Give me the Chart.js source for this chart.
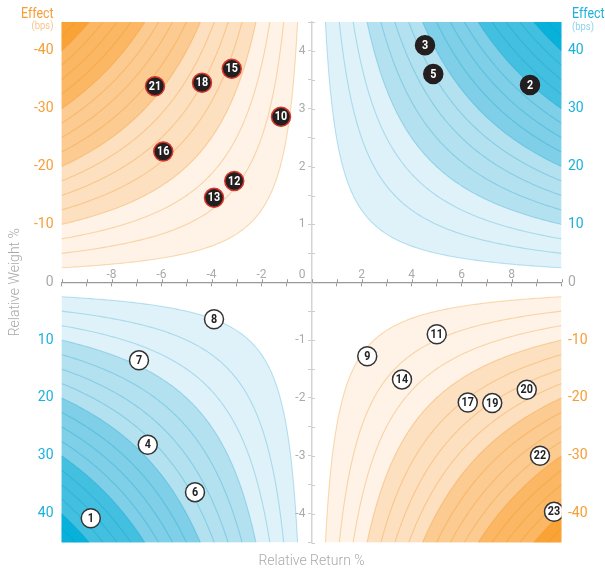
<!DOCTYPE html>
<html>
<head>
<meta charset="utf-8">
<script src="https://cdn.jsdelivr.net/npm/chart.js@4/dist/chart.umd.min.js"></script>
<style>
html,body{margin:0;padding:0;background:#fff;}
#wrap{width:605px;height:570px;position:relative;}
</style>
</head>
<body>
<div id="wrap"><canvas id="c" width="605" height="570"></canvas></div>
<script>
// ---- data ----
const pointIds   = [1, 2, 3, 4, 5, 6, 7, 8, 9, 10, 11, 12, 13, 14, 15, 16, 17, 18, 19, 20, 21, 22, 23];
const relReturn  = [-8.83, 8.74, 4.54, -6.55, 4.87, -4.66, -6.9, -3.9, 2.23, -1.22, 5.01, -3.09, -3.9, 3.62, -3.19, -5.93, 6.25, -4.38, 7.23, 8.61, -6.26, 9.14, 9.7];
const relWeight  = [-4.08, 3.41, 4.10, -2.81, 3.60, -3.63, -1.35, -0.64, -1.28, 2.86, -0.90, 1.75, 1.46, -1.68, 3.69, 2.26, -2.08, 3.45, -2.09, -1.86, 3.39, -3.0, -3.97];

// contour levels (bps) and band levels (bps)
const contourLevels = [2.5, 5, 7.5, 10, 12.5, 15, 17.5, 20, 22.5, 25, 27.5, 30, 32.5, 35, 37.5, 40, 42.5, 45];
const bandLevels    = [2.5, 10, 20, 30, 40];

// tick labels
const weightTicks        = [-4, -3, -2, -1, 0, 1, 2, 3, 4];
const leftEffectLabels   = ['40', '30', '20', '10', '0', '-10', '-20', '-30', '-40'];
const rightEffectLabels  = ['-40', '-30', '-20', '-10', '0', '10', '20', '30', '40'];
const returnTickValues   = [-8, -6, -4, -2, 2, 4, 6, 8];
const returnTickLabels   = ['-8', '-6', '-4', '-2', '2', '4', '6', '8'];
const weightAxisValues   = [-4, -3, -2, -1, 1, 2, 3, 4];
const weightAxisLabels   = ['-4', '-3', '-2', '-1', '1', '2', '3', '4'];

// ---- styles ----
const ORANGE = '#f59e38', ORANGE_LIGHT = '#f8c48c';
const BLUE = '#1cb1dc', BLUE_LIGHT = '#8fd2ea';
const GREY = '#aaaaaa';
const orangeBands = ['#fef3e6', '#fde0c0', '#fccb91', '#fbb763', '#f9a236'];
const blueBands   = ['#e0f2f9', '#b3e1ef', '#7ecfe7', '#43bfe0', '#07b1d9'];
const orangeLine = 'rgba(240,150,40,0.34)';
const blueLine   = 'rgba(0,150,200,0.26)';
const FONT = 'Roboto, "Noto Sans", sans-serif';
const PAD = '\u2002';

const quadrants = [
  {sx: -1, sy: 1}, {sx: 1, sy: 1}, {sx: -1, sy: -1}, {sx: 1, sy: -1}
];

function curve(level, q, xs, ys) {
  const rMax = xs.max, wMax = ys.max;
  const rMin = level / wMax;
  const pts = [];
  const N = 140;
  for (let k = 0; k <= N; k++) {
    const r = rMin * Math.pow(rMax / rMin, k / N);
    const w = level / r;
    pts.push([xs.getPixelForValue(q.sx * r), ys.getPixelForValue(q.sy * w)]);
  }
  return pts;
}

function narrowText(ctx, text, x, y, sx) {
  ctx.save();
  ctx.translate(x, y);
  ctx.scale(sx, 1);
  ctx.fillText(text, 0, 0);
  ctx.restore();
}

const contourPlugin = {
  id: 'contours',
  beforeDraw(chart) {
    const {ctx, chartArea: ca} = chart;
    const xs = chart.scales.x, ys = chart.scales.y;
    ctx.save();
    ctx.beginPath();
    ctx.rect(ca.left, ca.top, ca.right - ca.left, ca.bottom - ca.top);
    ctx.clip();
    quadrants.forEach(q => {
      const positive = q.sx * q.sy > 0;
      const pal = positive ? blueBands : orangeBands;
      bandLevels.forEach((L, i) => {
        const pts = curve(L, q, xs, ys);
        ctx.beginPath();
        pts.forEach((p, j) => j ? ctx.lineTo(p[0], p[1]) : ctx.moveTo(p[0], p[1]));
        ctx.lineTo(xs.getPixelForValue(q.sx * xs.max), ys.getPixelForValue(q.sy * ys.max));
        ctx.closePath();
        ctx.fillStyle = pal[i];
        ctx.fill();
      });
      ctx.lineWidth = 1.1;
      ctx.strokeStyle = positive ? blueLine : orangeLine;
      contourLevels.forEach(L => {
        const pts = curve(L, q, xs, ys);
        ctx.beginPath();
        pts.forEach((p, j) => j ? ctx.lineTo(p[0], p[1]) : ctx.moveTo(p[0], p[1]));
        ctx.stroke();
      });
    });
    ctx.restore();
  }
};

const labelPlugin = {
  id: 'pointLabels',
  afterDatasetsDraw(chart) {
    const {ctx} = chart;
    const meta = chart.getDatasetMeta(0);
    ctx.save();
    ctx.font = 'bold 12.5px ' + FONT;
    ctx.textAlign = 'center';
    ctx.textBaseline = 'middle';
    meta.data.forEach((el, i) => {
      ctx.fillStyle = relWeight[i] > 0 ? '#ffffff' : '#222222';
      narrowText(ctx, String(pointIds[i]), el.x, el.y + 0.5, 0.86);
    });
    ctx.restore();
  },
  afterDraw(chart) {
    const {ctx, chartArea: ca} = chart;
    const xs = chart.scales.x, ys = chart.scales.y;
    // other half of the central axes' tick marks
    ctx.save();
    ctx.lineWidth = 1;
    const y0 = ys.getPixelForValue(0);
    const x0 = xs.getPixelForValue(0);
    ctx.strokeStyle = '#999999';
    xs.ticks.forEach(t => {
      const px = Math.round(xs.getPixelForValue(t.value)) + 0.5;
      ctx.beginPath(); ctx.moveTo(px, y0 - 3); ctx.lineTo(px, y0); ctx.stroke();
    });
    ctx.strokeStyle = '#cccccc';
    ys.ticks.forEach(t => {
      if (t.value === 0) return;
      const py = Math.round(ys.getPixelForValue(t.value)) + 0.5;
      ctx.beginPath(); ctx.moveTo(x0, py); ctx.lineTo(x0 + 3.5, py); ctx.stroke();
    });
    ctx.restore();

    ctx.save();
    ctx.textBaseline = 'alphabetic';
    ctx.textAlign = 'right';
    ctx.font = '15.5px ' + FONT;
    ctx.fillStyle = ORANGE;
    narrowText(ctx, 'Effect', ca.left - 8, 18.3, 0.8);
    ctx.font = '11.5px ' + FONT;
    ctx.fillStyle = ORANGE_LIGHT;
    narrowText(ctx, '(bps)', ca.left - 8, 28.5, 0.82);
    ctx.textAlign = 'left';
    ctx.font = '15.5px ' + FONT;
    ctx.fillStyle = BLUE;
    narrowText(ctx, 'Effect', ca.right + 10.5, 18.3, 0.8);
    ctx.font = '11.5px ' + FONT;
    ctx.fillStyle = BLUE_LIGHT;
    narrowText(ctx, '(bps)', ca.right + 10.5, 30, 0.82);
    ctx.restore();
  }
};

const points = relReturn.map((r, i) => ({x: r, y: relWeight[i]}));

new Chart(document.getElementById('c'), {
  type: 'scatter',
  data: {
    datasets: [{
      data: points,
      pointRadius: 9.5,
      pointHoverRadius: 9.5,
      pointBorderWidth: 1.5,
      backgroundColor: c => relWeight[c.dataIndex] > 0 ? '#231f20' : '#ffffff',
      borderColor: c => {
        const i = c.dataIndex;
        if (relWeight[i] > 0) return relReturn[i] < 0 ? '#d8362b' : '#231f20';
        return '#333333';
      }
    }]
  },
  options: {
    responsive: false,
    animation: false,
    devicePixelRatio: 1,
    layout: {padding: {top: 22, left: 0, right: 0, bottom: 0}},
    plugins: {legend: {display: false}, tooltip: {enabled: false}},
    scales: {
      x: {
        type: 'linear', min: -10, max: 10,
        position: {y: 0},
        grid: {drawOnChartArea: false, drawTicks: true, tickLength: 3, color: '#999999'},
        border: {color: '#999999', width: 1.3},
        ticks: {
          stepSize: 1, autoSkip: false, maxRotation: 0, color: GREY, padding: -17.2,
          font: {family: FONT, size: 12},
          callback: v => { const k = returnTickValues.indexOf(v); return k >= 0 ? returnTickLabels[k] : ''; }
        }
      },
      y: {
        type: 'linear', min: -4.5, max: 4.5,
        position: {x: 0},
        grid: {drawOnChartArea: false, drawTicks: true, tickLength: 3, color: '#cccccc'},
        border: {color: '#d4d4d4', width: 1.5},
        ticks: {
          stepSize: 0.5, autoSkip: false, color: GREY, padding: 4,
          font: {family: FONT, size: 12},
          callback: v => {
            if (v === 0) return ['0' + PAD, ''];
            const k = weightAxisValues.indexOf(v);
            return k >= 0 ? weightAxisLabels[k] + PAD : '';
          }
        }
      },
      yL: {
        type: 'linear', min: -4.5, max: 4.5, position: 'left',
        grid: {display: false, drawTicks: false},
        border: {display: false},
        afterBuildTicks: s => { s.ticks = weightTicks.map(v => ({value: v})); },
        afterFit: s => { s.width = 61.5; },
        ticks: {
          padding: 8, autoSkip: false,
          font: {family: FONT, size: 14},
          color: c => { const v = c.tick.value; return v > 0 ? ORANGE : (v < 0 ? BLUE : GREY); },
          callback: (v, i) => leftEffectLabels[weightTicks.indexOf(v)]
        },
        title: {display: true, text: 'Relative Weight %', color: GREY, font: {family: FONT, size: 14, weight: 300}, padding: {top: 7, bottom: 0}}
      },
      yR: {
        type: 'linear', min: -4.5, max: 4.5, position: 'right',
        grid: {display: false, drawTicks: false},
        border: {display: false},
        afterBuildTicks: s => { s.ticks = weightTicks.map(v => ({value: v})); },
        afterFit: s => { s.width = 43.5; },
        ticks: {
          padding: 6.5, autoSkip: false,
          font: {family: FONT, size: 14},
          color: c => { const v = c.tick.value; return v > 0 ? BLUE : (v < 0 ? ORANGE : GREY); },
          callback: (v, i) => rightEffectLabels[weightTicks.indexOf(v)]
        }
      },
      xB: {
        type: 'linear', min: -10, max: 10, position: 'bottom',
        grid: {display: false, drawTicks: false},
        border: {display: false},
        ticks: {display: false},
        afterFit: s => { s.height = 27.5; },
        title: {display: true, text: 'Relative Return %', color: GREY, font: {family: FONT, size: 14, weight: 300}, padding: {top: 0, bottom: 0}}
      }
    }
  },
  plugins: [contourPlugin, labelPlugin]
});
</script>
</body>
</html>
